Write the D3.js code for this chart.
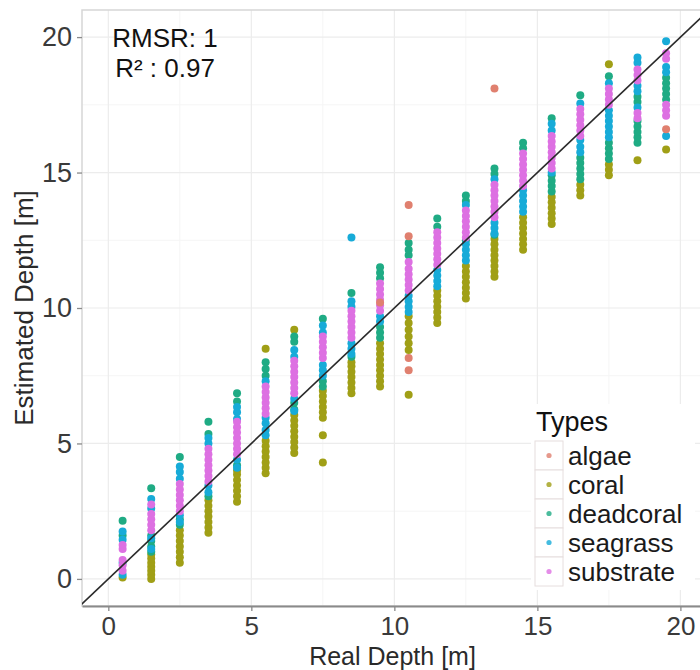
<!DOCTYPE html>
<html>
<head>
<meta charset="utf-8">
<script src="https://cdn.jsdelivr.net/npm/d3@7"></script>
<style>
  body { margin: 0; background: #fff; }
  svg { font-family: "Liberation Sans", Arial, sans-serif; }
</style>
</head>
<body>
<div id="chart"></div>
<script>
//data
const realDepth = [0.5, 1.5, 2.5, 3.5, 4.5, 5.5, 6.5, 7.5, 8.5, 9.5, 10.5, 11.5, 12.5, 13.5, 14.5, 15.5, 16.5, 17.5, 18.5, 19.5];
const types = ["algae", "coral", "deadcoral", "seagrass", "substrate"];
const xTicks = [0, 5, 10, 15, 20];
const yTicks = [0, 5, 10, 15, 20];

// estimated depths per real depth column
const algae = [
  [], [], [], [], [], [], [], [], [], [10.2],
  [7.7, 8.15, 12.65, 13.8], [], [], [18.1], [], [], [], [], [], [16.6]
];
const coral = [
  [0.05],
  [0.0, 0.15, 0.3, 0.45, 0.6, 0.75, 0.9],
  [0.6, 0.8, 1.0, 1.2, 1.4, 1.6, 1.8],
  [1.7, 1.9, 2.1, 2.3, 2.5, 2.7, 2.9],
  [2.85, 3.05, 3.25, 3.45, 3.65, 3.85, 4.0],
  [3.9, 4.1, 4.3, 4.5, 4.7, 4.9, 5.1, 8.5],
  [4.65, 4.85, 5.05, 5.25, 5.45, 5.65, 5.85, 6.05, 9.2],
  [4.3, 5.3, 5.95, 6.15, 6.35, 6.55, 6.75, 6.95],
  [6.85, 7.05, 7.25, 7.45, 7.65, 7.85, 8.0],
  [7.1, 7.3, 7.5, 7.7, 7.9, 8.1, 8.3, 8.5, 8.7],
  [6.8, 8.45, 8.7, 8.95, 9.2, 9.45, 9.7],
  [9.45, 9.65, 9.85, 10.05, 10.25, 10.45, 10.65],
  [10.35, 10.55, 10.75, 10.95, 11.15, 11.35, 11.55],
  [11.15, 11.35, 11.55, 11.75, 11.95, 12.15, 12.35, 12.55],
  [12.15, 12.35, 12.55, 12.75, 12.95, 13.15, 13.35],
  [13.1, 13.3, 13.5, 13.7, 13.9, 14.1],
  [14.15, 14.35, 14.55],
  [14.9, 15.1, 15.3, 19.0],
  [15.45],
  [15.85]
];
const deadcoral = [
  [1.6, 2.15],
  [1.0, 1.2, 1.4, 1.6, 3.35],
  [2.0, 2.2, 4.5],
  [3.05, 5.35, 5.8],
  [4.2, 6.55, 6.85],
  [7.5, 7.75, 8.0],
  [6.25, 6.5, 8.75, 8.95],
  [7.1, 7.3, 9.6],
  [8.2, 10.55],
  [8.9, 9.1, 9.3, 11.1, 11.3, 11.5],
  [11.95, 12.15, 12.4],
  [13.0, 13.3],
  [12.5, 13.95, 14.15],
  [12.7, 14.95, 15.15],
  [15.9, 16.1],
  [14.3, 14.5, 14.7, 14.9, 17.0],
  [14.75, 14.95, 15.15, 15.35, 15.55, 17.85],
  [15.5, 15.7, 15.9, 16.1, 18.55],
  [16.1, 16.3, 16.5, 16.7, 16.9, 17.6, 17.8],
  [17.7, 17.9, 18.1, 18.3, 18.5]
];
const seagrass = [
  [0.15, 0.6, 1.45, 1.75],
  [1.1, 1.5, 2.6, 2.95],
  [2.1, 2.35, 3.7, 3.95, 4.15],
  [3.2, 3.45, 5.0, 5.2],
  [4.1, 4.4, 5.9, 6.15, 6.35],
  [5.3, 5.5, 5.75, 5.95, 7.3],
  [6.2, 6.65, 8.2, 8.45],
  [7.5, 7.7, 7.9, 9.1, 9.35],
  [8.3, 8.5, 8.7, 10.05, 10.25, 12.6],
  [9.5, 9.7],
  [9.85, 10.05, 10.25, 10.45],
  [10.8, 11.0, 11.2, 11.4],
  [11.75, 11.95, 12.15, 12.35, 13.8],
  [12.75, 12.95, 13.15, 14.75],
  [13.55, 13.75, 13.95, 14.15, 14.35],
  [15.0, 16.55, 16.8],
  [15.75, 15.95, 16.2, 17.55],
  [16.3, 16.5, 16.7, 16.9, 17.1, 17.3, 18.3],
  [17.4, 18.0, 18.2, 19.05, 19.25],
  [16.35, 18.7, 18.9, 19.85]
];
const substrate = [
  [0.3, 0.5, 0.7, 1.1, 1.25],
  [1.8, 2.0, 2.2, 2.4, 2.75],
  [2.5, 2.7, 2.9, 3.1, 3.3, 3.5],
  [3.6, 3.8, 4.0, 4.2, 4.4, 4.6, 4.8],
  [4.6, 4.8, 5.0, 5.2, 5.4, 5.6, 5.8],
  [6.1, 6.3, 6.5, 6.7, 6.9, 7.1],
  [6.85, 7.05, 7.25, 7.45, 7.65, 7.85, 8.05],
  [8.15, 8.35, 8.55, 8.75, 8.95],
  [8.9, 9.1, 9.3, 9.5, 9.7, 9.9],
  [9.9, 10.1, 10.3, 10.5, 10.7, 10.9],
  [10.65, 10.85, 11.05, 11.25, 11.45, 11.7],
  [11.6, 11.8, 12.0, 12.2, 12.4, 12.6, 12.8],
  [12.6, 12.8, 13.0, 13.2, 13.4, 13.6],
  [13.35, 13.55, 13.75, 13.95, 14.15, 14.35, 14.55],
  [14.5, 14.7, 14.9, 15.1, 15.3, 15.5, 15.7],
  [15.15, 15.35, 15.55, 15.75, 15.95, 16.15, 16.35],
  [16.35, 16.55, 16.75, 16.95, 17.15, 17.35],
  [17.5, 17.7, 17.9, 18.1],
  [17.0, 17.2, 18.4, 18.6, 18.8],
  [17.1, 17.3, 17.5, 19.2, 19.4]
];

const seriesByType = { algae, coral, deadcoral, seagrass, substrate };
const drawOrder = ["coral", "deadcoral", "seagrass", "substrate", "algae"];

//points table
const points = [];
drawOrder.forEach((type) => {
  seriesByType[type].forEach((ys, i) => {
    ys.forEach((y) => points.push({ type, x: realDepth[i], y }));
  });
});

//size
const width = 700, height = 670;
const panel = { left: 82, top: 10, right: 709, bottom: 606 };

//scale
const xScale = d3.scaleLinear().domain([-0.92, 21]).range([panel.left, panel.right]);
const yScale = d3.scaleLinear().domain([-1, 21]).range([panel.bottom, panel.top]);
const color = d3.scaleOrdinal()
  .domain(types)
  .range(["#E0806F", "#A09F16", "#1FAB84", "#17ABD8", "#DD70E2"]);

//create element
const svg = d3.select("#chart").append("svg")
  .attr("width", width)
  .attr("height", height);

svg.append("defs").append("clipPath").attr("id", "clip")
  .append("rect")
  .attr("x", panel.left).attr("y", panel.top)
  .attr("width", panel.right - panel.left)
  .attr("height", panel.bottom - panel.top);

//grid
const grid = svg.append("g").attr("class", "grid");
const minor = [2.5, 7.5, 12.5, 17.5];
grid.selectAll("line.vminor").data(minor).join("line")
  .attr("x1", (d) => xScale(d)).attr("x2", (d) => xScale(d))
  .attr("y1", panel.top).attr("y2", panel.bottom)
  .attr("stroke", "#f5f5f5").attr("stroke-width", 1);
grid.selectAll("line.hminor").data(minor).join("line")
  .attr("y1", (d) => yScale(d)).attr("y2", (d) => yScale(d))
  .attr("x1", panel.left).attr("x2", panel.right)
  .attr("stroke", "#f5f5f5").attr("stroke-width", 1);
grid.selectAll("line.vmajor").data(xTicks).join("line")
  .attr("x1", (d) => xScale(d)).attr("x2", (d) => xScale(d))
  .attr("y1", panel.top).attr("y2", panel.bottom)
  .attr("stroke", "#ececec").attr("stroke-width", 1.2);
grid.selectAll("line.hmajor").data(yTicks).join("line")
  .attr("y1", (d) => yScale(d)).attr("y2", (d) => yScale(d))
  .attr("x1", panel.left).attr("x2", panel.right)
  .attr("stroke", "#ececec").attr("stroke-width", 1.2);

//panel border
svg.append("rect")
  .attr("x", panel.left).attr("y", panel.top)
  .attr("width", panel.right - panel.left)
  .attr("height", panel.bottom - panel.top)
  .attr("fill", "none").attr("stroke", "#d6d6d6").attr("stroke-width", 1.5);

//mark
svg.append("g").attr("class", "mark").attr("clip-path", "url(#clip)")
  .selectAll("circle")
  .data(points)
  .join("circle")
  .attr("cx", (d) => xScale(d.x))
  .attr("cy", (d) => yScale(d.y))
  .attr("r", 4)
  .attr("fill", (d) => color(d.type));

//1:1 line
svg.append("line")
  .attr("clip-path", "url(#clip)")
  .attr("x1", xScale(-1)).attr("y1", yScale(-1))
  .attr("x2", xScale(21)).attr("y2", yScale(21))
  .attr("stroke", "#2a2a2a").attr("stroke-width", 1.6);

//x-axis
const xAxis = svg.append("g")
  .attr("transform", `translate(0,${panel.bottom})`)
  .call(d3.axisBottom(xScale).tickValues(xTicks).tickSize(5).tickSizeOuter(0).tickPadding(6));
xAxis.select(".domain").attr("stroke", "#8a8a8a").attr("stroke-width", 1.8);
xAxis.selectAll(".tick line").attr("stroke", "#8a8a8a").attr("stroke-width", 1.3);
xAxis.selectAll(".tick text").attr("font-size", 26).attr("fill", "#3a3a3a")
  .attr("font-family", "Liberation Sans, Arial, sans-serif");

//y-axis
const yAxis = svg.append("g")
  .attr("transform", `translate(${panel.left},0)`)
  .call(d3.axisLeft(yScale).tickValues(yTicks).tickSize(5).tickSizeOuter(0).tickPadding(5));
yAxis.select(".domain").remove();
yAxis.selectAll(".tick line").attr("stroke", "#8a8a8a").attr("stroke-width", 1.3);
yAxis.selectAll(".tick text").attr("font-size", 27).attr("fill", "#3a3a3a")
  .attr("font-family", "Liberation Sans, Arial, sans-serif");

//titles
svg.append("text")
  .attr("x", (panel.left + panel.right) / 2 - 3)
  .attr("y", 665)
  .attr("text-anchor", "middle")
  .attr("font-size", 25)
  .attr("fill", "#2a2a2a")
  .text("Real Depth [m]");

svg.append("text")
  .attr("transform", `translate(33,${(panel.top + panel.bottom) / 2}) rotate(-90)`)
  .attr("text-anchor", "middle")
  .attr("font-size", 26)
  .attr("fill", "#2a2a2a")
  .text("Estimated Depth [m]");

//annotation
svg.append("text")
  .attr("x", 165).attr("y", 47)
  .attr("text-anchor", "middle")
  .attr("font-size", 26)
  .attr("fill", "#111")
  .text("RMSR: 1");
svg.append("text")
  .attr("x", 165).attr("y", 77)
  .attr("text-anchor", "middle")
  .attr("font-size", 26)
  .attr("fill", "#111")
  .text("R\u00B2 : 0.97");

//legend
const legend = svg.append("g").attr("transform", "translate(531,404)");
legend.append("rect")
  .attr("x", 0).attr("y", 0).attr("width", 164).attr("height", 186)
  .attr("fill", "#fff");
legend.append("text")
  .attr("x", 5).attr("y", 27)
  .attr("font-size", 27)
  .attr("fill", "#111")
  .text("Types");
const keyH = 29;
const rows = legend.selectAll("g.key").data(types).join("g")
  .attr("class", "key")
  .attr("transform", (d, i) => `translate(4,${37 + i * keyH})`);
rows.append("rect")
  .attr("width", 28).attr("height", keyH)
  .attr("fill", "#fff").attr("stroke", "#e6dede").attr("stroke-width", 1);
rows.append("circle")
  .attr("cx", 14).attr("cy", keyH / 2)
  .attr("r", 2.6)
  .attr("fill", (d) => color(d))
  .attr("opacity", 0.8);
rows.append("text")
  .attr("x", 33).attr("y", keyH / 2 + 9)
  .attr("font-size", 26)
  .attr("fill", "#1a1a1a")
  .text((d) => d);
</script>
</body>
</html>
